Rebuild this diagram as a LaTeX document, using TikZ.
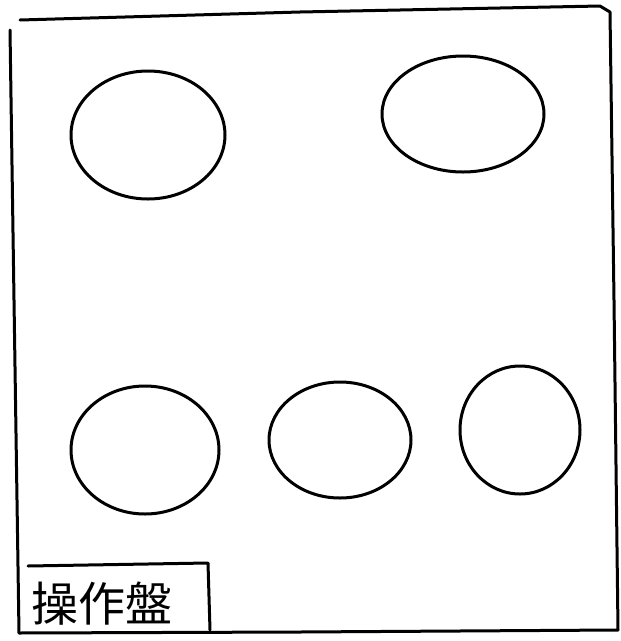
\documentclass[tikz,border=0pt]{standalone}
\usepackage{fontspec}
\usetikzlibrary{shapes.geometric}
\newfontfamily\cjk{Noto Sans CJK JP}
\begin{document}
\begin{tikzpicture}[x=1pt,y=-1pt,
  ink/.style={draw=black,line width=3pt,line cap=round,line join=round},
  knob/.style={ink,ellipse,inner sep=0pt},
]
\useasboundingbox (0,0) rectangle (621,641);
% outer panel
\draw[ink] (20,20) -- (300,12) -- (600,6) -- (610,12) -- (614,300) -- (618,630)
  -- (300,632) -- (19,633) -- (14,300) -- (10,30);
% knobs
\node[knob,minimum width=154pt,minimum height=128pt] (k1) at (148,135) {};
\node[knob,minimum width=162pt,minimum height=116pt] (k2) at (463,114) {};
\node[knob,minimum width=148pt,minimum height=128pt] (k3) at (145,450) {};
\node[knob,minimum width=142pt,minimum height=116pt] (k4) at (340,440) {};
\node[knob,minimum width=120pt,minimum height=128pt] (k5) at (520,430) {};
% label box
\node[anchor=west,font=\cjk\fontsize{47}{47}\selectfont,inner sep=0pt] (lab) at (31,604) {操作盤};
\draw[ink] (28,566) -- (208,563) -- (210,630);
\end{tikzpicture}
\end{document}
